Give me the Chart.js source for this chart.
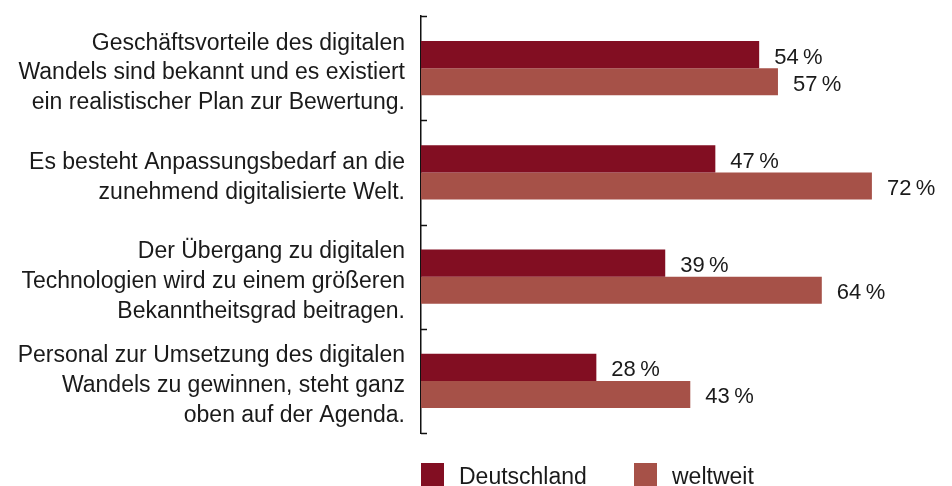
<!DOCTYPE html>
<html>
<head>
<meta charset="utf-8">
<script src="https://cdn.jsdelivr.net/npm/chart.js@4"></script>
<style>
  html, body { margin: 0; padding: 0; background: #fff; }
  #wrap { width: 952px; height: 486px; }
</style>
</head>
<body>
<div id="wrap"><canvas id="chart"></canvas></div>
<script>
// data
const categories = [
  ['Geschäftsvorteile des digitalen', 'Wandels sind bekannt und es existiert', 'ein realistischer Plan zur Bewertung.'],
  ['Es besteht Anpassungsbedarf an die', 'zunehmend digitalisierte Welt.'],
  ['Der Übergang zu digitalen', 'Technologien wird zu einem größeren', 'Bekanntheitsgrad beitragen.'],
  ['Personal zur Umsetzung des digitalen', 'Wandels zu gewinnen, steht ganz', 'oben auf der Agenda.']
];
const seriesNames = ['Deutschland', 'weltweit'];
const deutschland = [54, 47, 39, 28];
const weltweit = [57, 72, 64, 43];
const colors = ['#820E22', '#A65148'];

const FONT = '"Liberation Sans", Arial, sans-serif';

// ticks on the inner side of the axis + value labels + legend
const extras = {
  id: 'extras',
  afterDraw(chart) {
    const ctx = chart.ctx;
    const area = chart.chartArea;
    const n = chart.data.labels.length;
    const band = (area.bottom - area.top) / n;

    ctx.save();
    ctx.strokeStyle = '#111';
    ctx.lineWidth = 1.5;
    for (let i = 0; i <= n; i++) {
      const py = Math.round(area.top + i * band) + 0.5;
      ctx.beginPath();
      ctx.moveTo(area.left, py);
      ctx.lineTo(area.left + 6, py);
      ctx.stroke();
    }

    // value labels
    ctx.font = '22px ' + FONT;
    ctx.fillStyle = '#1a1a1a';
    ctx.textBaseline = 'middle';
    ctx.textAlign = 'left';
    chart.data.datasets.forEach((ds, di) => {
      const meta = chart.getDatasetMeta(di);
      meta.data.forEach((bar, i) => {
        ctx.fillText(ds.data[i] + '\u2009%', bar.x + 15, bar.y + 3);
      });
    });

    // legend
    ctx.font = '23px ' + FONT;
    const lx = [area.left, area.left + 213];
    chart.data.datasets.forEach((ds, di) => {
      ctx.fillStyle = ds.backgroundColor;
      ctx.fillRect(lx[di], 463, 23, 23);
      ctx.fillStyle = '#1a1a1a';
      ctx.fillText(ds.label, lx[di] + 38, 478);
    });
    ctx.restore();
  }
};

new Chart(document.getElementById('chart'), {
  type: 'bar',
  data: {
    labels: categories,
    datasets: [
      { label: seriesNames[0], data: deutschland, backgroundColor: colors[0] },
      { label: seriesNames[1], data: weltweit, backgroundColor: colors[1] }
    ]
  },
  options: {
    indexAxis: 'y',
    responsive: true,
    maintainAspectRatio: false,
    animation: false,
    datasets: {
      bar: { categoryPercentage: 0.52, barPercentage: 1.0, borderWidth: 0 }
    },
    layout: { padding: { top: 16, bottom: 53, left: 0, right: 30 } },
    plugins: {
      legend: { display: false },
      tooltip: { enabled: false }
    },
    scales: {
      x: { display: false, min: 0, max: 80 },
      y: {
        afterFit(scale) {
          scale.width = 421;
          scale.paddingTop = 0;
          scale.paddingBottom = 0;
        },
        grid: { display: true, drawOnChartArea: false, drawTicks: false },
        border: { display: true, color: '#111', width: 1.5 },
        ticks: {
          padding: 16,
          labelOffset: 5,
          color: '#1a1a1a',
          font: { family: FONT, size: 23, lineHeight: 1.3 }
        }
      }
    }
  },
  plugins: [extras]
});
</script>
</body>
</html>
